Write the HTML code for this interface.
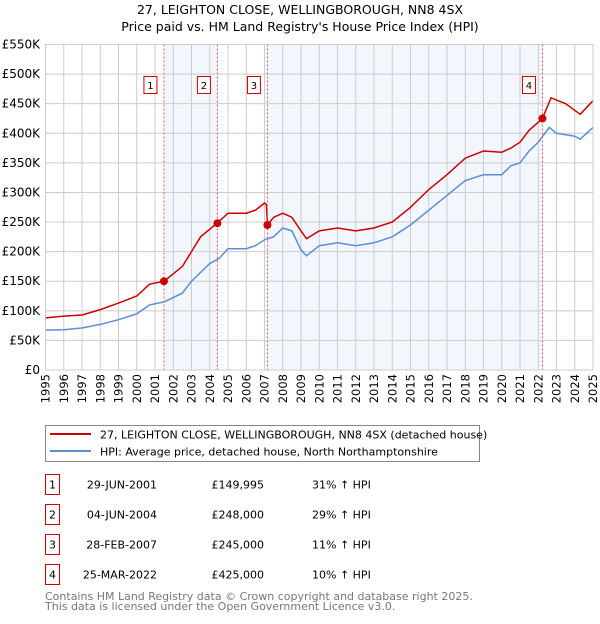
<!DOCTYPE html>
<html><head><meta charset="utf-8"><style>
body{margin:0;background:#fff;font-family:"DejaVu Sans","Liberation Sans",sans-serif}
svg text{font-family:"DejaVu Sans","Liberation Sans",sans-serif}
</style></head><body>
<svg id="c" width="600" height="620" viewBox="0 0 600 620" xmlns="http://www.w3.org/2000/svg">
<text x="300" y="14" text-anchor="middle" font-size="12.5" fill="#000">27, LEIGHTON CLOSE, WELLINGBOROUGH, NN8 4SX</text>
<text x="300" y="31" text-anchor="middle" font-size="12.5" fill="#000">Price paid vs. HM Land Registry's House Price Index (HPI)</text>
<g id="plot"></g>
<rect x="45.5" y="425.5" width="434" height="36" fill="#fff" stroke="#888" stroke-width="1"/>
<line x1="50" y1="434" x2="91" y2="434" stroke="#cc0000" stroke-width="2"/>
<text x="100" y="438.5" font-size="11">27, LEIGHTON CLOSE, WELLINGBOROUGH, NN8 4SX (detached house)</text>
<line x1="50" y1="451" x2="91" y2="451" stroke="#5b8fd4" stroke-width="2"/>
<text x="100" y="455.5" font-size="11">HPI: Average price, detached house, North Northamptonshire</text>
<g id="tbl"></g>
<text x="45" y="600" font-size="11" fill="#777">Contains HM Land Registry data © Crown copyright and database right 2025.</text>
<text x="45" y="610" font-size="11" fill="#777">This data is licensed under the Open Government Licence v3.0.</text>
</svg>
<script>
const hpiYears=[1995,1996,1997,1998,1999,2000,2000.7,2001.5,2002.5,2003,2003.5,2004,2004.5,2005,2006,2006.5,2007,2007.5,2008,2008.5,2009,2009.3,2010,2011,2012,2013,2014,2015,2016,2017,2018,2019,2020,2020.5,2021,2021.5,2022,2022.6,2023,2024,2024.3,2025];
const hpiValues=[67500,68000,71000,77000,85000,95000,110000,115000,130000,150000,165000,180000,188000,205000,205000,210000,220000,225000,240000,235000,203000,193000,210000,215000,210000,215000,225000,245000,270000,295000,320000,330000,330000,345000,350000,370000,385000,410000,400000,395000,390000,410000];
const redYears=[1995,1996,1997,1998,1999,2000,2000.7,2001.5,2002.5,2003,2003.5,2004.4,2005,2006,2006.5,2007.0,2007.1,2007.17,2007.5,2008,2008.5,2009,2009.3,2010,2011,2012,2013,2014,2015,2016,2017,2018,2019,2020,2020.5,2021,2021.5,2022.23,2022.7,2023.5,2024.3,2025];
const redValues=[88000,91000,93000,102000,113000,125000,145000,150000,175000,200000,225000,248000,265000,265000,270000,282000,280000,245000,258000,265000,258000,235000,222000,235000,240000,235000,240000,250000,275000,305000,330000,358000,370000,368000,375000,385000,405000,425000,460000,450000,432000,455000];
const saleLabels=["1","2","3","4"];
const saleYears=[2001.49,2004.42,2007.16,2022.23];
const salePrices=[149995,248000,245000,425000];
const saleDates=["29-JUN-2001","04-JUN-2004","28-FEB-2007","25-MAR-2022"];
const salePriceText=["£149,995","£248,000","£245,000","£425,000"];
const saleHpiText=["31% ↑ HPI","29% ↑ HPI","11% ↑ HPI","10% ↑ HPI"];
const yTicks=[0,50000,100000,150000,200000,250000,300000,350000,400000,450000,500000,550000];
const yTickLabels=["£0","£50K","£100K","£150K","£200K","£250K","£300K","£350K","£400K","£450K","£500K","£550K"];
const xTicks=[1995,1996,1997,1998,1999,2000,2001,2002,2003,2004,2005,2006,2007,2008,2009,2010,2011,2012,2013,2014,2015,2016,2017,2018,2019,2020,2021,2022,2023,2024,2025];

const X0=45.5,X1=593,Y0=370,Y1=44.5;
const xs=y=>X0+(y-1995)/30*(X1-X0);
const ys=v=>Y0-v/550000*(Y0-Y1);
const NS="http://www.w3.org/2000/svg";
const plot=document.getElementById('plot');
function mk(p,tag,at){const e=document.createElementNS(NS,tag);for(const k in at)e.setAttribute(k,at[k]);p.appendChild(e);return e;}
let r;
r=mk(plot,'rect',{x:xs(saleYears[0]),y:Y1,width:xs(saleYears[1])-xs(saleYears[0]),height:Y0-Y1,fill:'#f3f6fd'});

r=mk(plot,'rect',{x:xs(saleYears[2]),y:Y1,width:xs(saleYears[3])-xs(saleYears[2]),height:Y0-Y1,fill:'#f3f6fd'});

xTicks.forEach((t,i)=>{
 const l=mk(plot,'line',{x1:xs(t),x2:xs(t),y1:Y1,y2:Y0,stroke:'#cccccc','stroke-width':1});
 
 const px=xs(t)+4,py=374;
 const tx=mk(plot,'text',{x:px,y:py,'text-anchor':'end','font-size':11.5,transform:`rotate(-90 ${px} ${py})`});
 tx.textContent=t;
 
});
yTicks.forEach((t,i)=>{
 const l=mk(plot,'line',{x1:X0,x2:X1,y1:ys(t),y2:ys(t),stroke:'#cccccc','stroke-width':1});
 
 const tx=mk(plot,'text',{x:40,y:ys(t)+4,'text-anchor':'end','font-size':12});
 tx.textContent=yTickLabels[i];
 
});
function path(xa,va){return xa.map((y,i)=>(i?'L':'M')+xs(y).toFixed(1)+','+ys(va[i]).toFixed(1)).join('');}
let p=mk(plot,'path',{d:path(hpiYears,hpiValues),fill:'none',stroke:'#5b8fd4','stroke-width':1.5});

p=mk(plot,'path',{d:path(redYears,redValues),fill:'none',stroke:'#cc0000','stroke-width':1.5});

saleYears.forEach((y,i)=>{
 const l=mk(plot,'line',{x1:xs(y),x2:xs(y),y1:Y1,y2:Y0,stroke:'#ee5555','stroke-width':1,'stroke-dasharray':'2,2'});
 
 const c=mk(plot,'circle',{cx:xs(y),cy:ys(salePrices[i]),r:4,fill:'#cc0000'});
 
 const b=mk(plot,'rect',{x:xs(y)-20,y:76.5,width:13,height:17,fill:'#fff',stroke:'#cc0000'});
 
 const t=mk(plot,'text',{x:xs(y)-13.5,y:89,'text-anchor':'middle','font-size':10});
 t.textContent=saleLabels[i];
 
});
const ax=mk(plot,'rect',{x:X0,y:Y1,width:X1-X0,height:Y0-Y1,fill:'none',stroke:'#cccccc'});

const tbl=document.getElementById('tbl');
saleLabels.forEach((s,i)=>{
 const cy=483+i*30;
 const b=mk(tbl,'rect',{x:45.5,y:cy-8.5,width:14,height:20,fill:'#fff',stroke:'#cc0000'});
 
 const cells=[[52.5,'middle',s],[157,'end',saleDates[i]],[264,'end',salePriceText[i]],[312,'start',saleHpiText[i]]];
 cells.forEach(c=>{const t=mk(tbl,'text',{x:c[0],y:cy+5.5,'text-anchor':c[1],'font-size':11});
  t.textContent=c[2];
  });
});
</script>
</body></html>
